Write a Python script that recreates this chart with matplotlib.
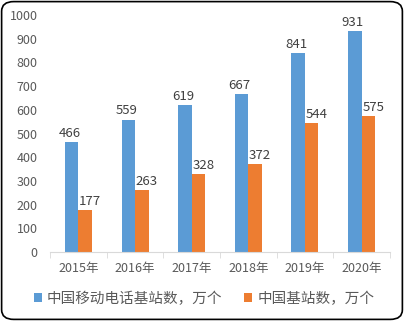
import numpy as np
import matplotlib
matplotlib.use("Agg")
import matplotlib.pyplot as plt
from matplotlib.patches import FancyBboxPatch

plt.rcParams["font.family"] = ["Noto Sans CJK SC", "DejaVu Sans"]

years = ["2015年", "2016年", "2017年", "2018年", "2019年", "2020年"]
mobile_stations = [466, 559, 619, 667, 841, 931]
all_stations = [177, 263, 328, 372, 544, 575]
series_names = ["中国移动电话基站数，万个", "中国基站数，万个"]

blue = "#5B9BD5"
orange = "#ED7D31"
text_grey = "#595959"

fig = plt.figure(figsize=(4.04, 3.21), dpi=100)
ax = fig.add_axes([0.124, 0.215, 0.841, 0.738])

x = np.arange(len(years))
width = 0.238
bars_a = ax.bar(x - width / 2, mobile_stations, width, color=blue, label=series_names[0])
bars_b = ax.bar(x + width / 2, all_stations, width, color=orange, label=series_names[1])

for bar, value in zip(bars_a, mobile_stations):
    ax.annotate(str(value), (bar.get_x() + bar.get_width() / 2, value),
                xytext=(-1.5, 1.5), textcoords="offset points",
                ha="center", va="bottom", fontsize=9.5, color="#404040")
for bar, value in zip(bars_b, all_stations):
    ax.annotate(str(value), (bar.get_x() + bar.get_width() / 2, value),
                xytext=(3.5, 1.5), textcoords="offset points",
                ha="center", va="bottom", fontsize=9.5, color="#404040")

ax.set_xlim(-0.5, len(years) - 0.5)
ax.set_ylim(0, 1000)
ax.set_yticks(np.arange(0, 1001, 100))
ax.set_xticks(x)
ax.set_xticklabels(years)
ax.set_xticks(np.arange(-0.5, len(years)), minor=True)

for side in ["top", "right", "left"]:
    ax.spines[side].set_visible(False)
ax.spines["bottom"].set_color("#D9D9D9")
ax.tick_params(axis="y", length=0, pad=9, labelsize=9, labelcolor=text_grey)
ax.tick_params(axis="x", which="major", length=0, pad=7, labelsize=9, labelcolor=text_grey)
ax.tick_params(axis="x", which="minor", length=4, color="#D9D9D9")

fig.legend(loc="center", bbox_to_anchor=(0.505, 0.069), ncol=2, frameon=False,
           fontsize=10.5, handlelength=0.55, handleheight=0.55, handletextpad=0.35,
           columnspacing=1.5, labelcolor=text_grey)

border = FancyBboxPatch((0.004, 0.005), 0.992, 0.99, transform=fig.transFigure,
                        boxstyle="round,pad=0,rounding_size=0.03",
                        facecolor="none", edgecolor="black", linewidth=1.2)
fig.patches.append(border)

fig.savefig("out.png", dpi=100)
